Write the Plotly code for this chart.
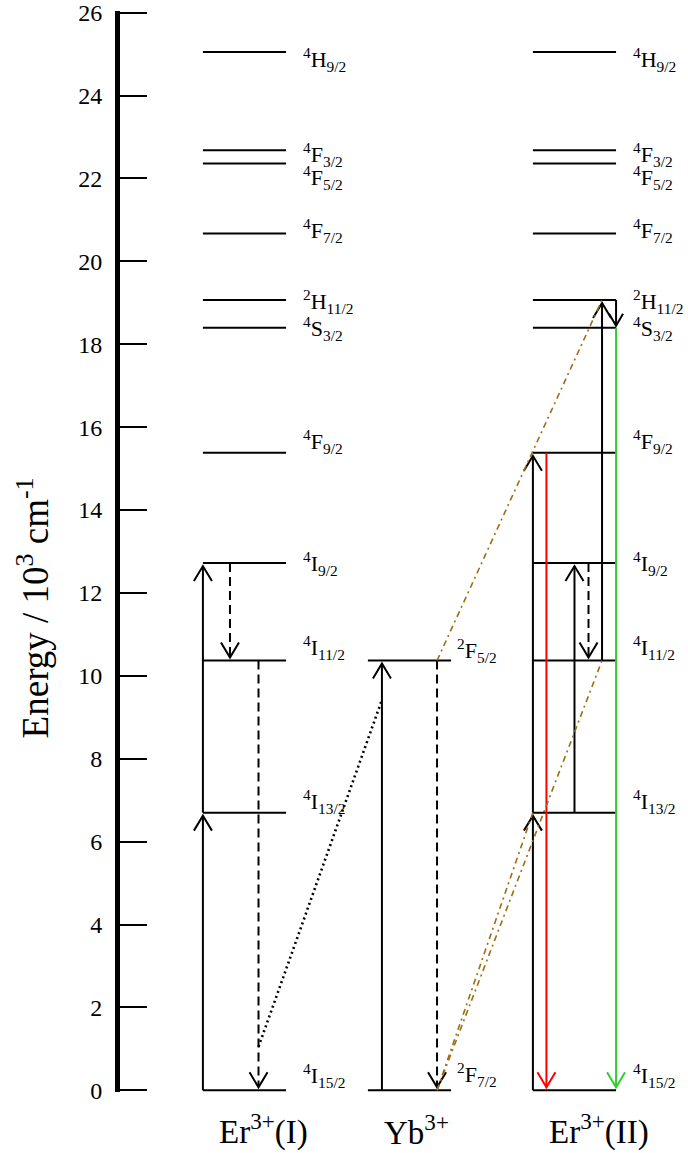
import plotly.graph_objects as go

# ---------------------------------------------------------------- data
# Er3+ multiplets (10^3 cm^-1), lowest first
er_terms = [
    "<sup>4</sup>I<sub>15/2</sub>", "<sup>4</sup>I<sub>13/2</sub>", "<sup>4</sup>I<sub>11/2</sub>",
    "<sup>4</sup>I<sub>9/2</sub>", "<sup>4</sup>F<sub>9/2</sub>", "<sup>4</sup>S<sub>3/2</sub>",
    "<sup>2</sup>H<sub>11/2</sub>", "<sup>4</sup>F<sub>7/2</sub>", "<sup>4</sup>F<sub>5/2</sub>",
    "<sup>4</sup>F<sub>3/2</sub>", "<sup>4</sup>H<sub>9/2</sub>",
]
er_energy = [0.0, 6.70, 10.37, 12.72, 15.38, 18.40, 19.07, 20.67, 22.36, 22.68, 25.05]

# Yb3+ multiplets
yb_terms = ["<sup>2</sup>F<sub>7/2</sub>", "<sup>2</sup>F<sub>5/2</sub>"]
yb_energy = [0.0, 10.37]

ion_labels = ["Er<sup>3+</sup>(I)", "Yb<sup>3+</sup>", "Er<sup>3+</sup>(II)"]
energy_ticks = [0, 2, 4, 6, 8, 10, 12, 14, 16, 18, 20, 22, 24, 26]

# transitions: (column, lane, start level index, end level index, kind)
transitions = [
    (0, "edge_l", 0, 1, "abs"), (0, "edge_l", 1, 3, "abs"),
    (0, "l1", 3, 2, "relax"), (0, "r1", 2, 0, "relax"),
    (1, "yb_l", 0, 1, "abs"), (1, "yb_r", 1, 0, "relax"),
    (2, "edge_l", 0, 1, "abs"), (2, "edge_l", 1, 4, "abs"),
    (2, "red", 4, 0, "red"),
    (2, "mid", 1, 3, "abs"), (2, "r1", 3, 2, "relax"),
    (2, "yb_r", 2, 6, "abs"), (2, "edge_r", 6, 5, "abs_down"),
    (2, "edge_r", 5, 0, "green"),
]

# energy-transfer paths: ((column, lane, energy), (column, lane, energy))
transfer_paths = [
    ((1, "yb_r", yb_energy[1]), (2, "yb_r", er_energy[6])),
    ((1, "yb_r", yb_energy[0]), (2, "yb_r", er_energy[2])),
    ((1, "yb_r", yb_energy[0]), (2, "edge_l", er_energy[1])),
]
# back-transfer path Er(I) -> Yb (energies at its two ends)
back_transfer_energy = [1.05, 9.42]

# ---------------------------------------------------------------- layout
FIG_W, FIG_H = 688, 1153
M_L, M_R, M_T, M_B = 120, 0, 11, 61
X_RANGE = [-0.7545, 2.688]
Y_RANGE = [-0.04, 26.04]
HALF_W = 0.252
LANES = {"edge_l": -0.252, "edge_r": 0.252, "l1": -0.088, "r1": 0.085,
         "yb_l": -0.167, "yb_r": 0.167, "red": -0.170, "mid": 0.0}
SERIF = "Liberation Serif"
BROWN = "#9E6B12"

px_x = (FIG_W - M_L - M_R) / (X_RANGE[1] - X_RANGE[0])
px_y = (FIG_H - M_T - M_B) / (Y_RANGE[1] - Y_RANGE[0])

STYLES = {
    "abs": dict(color="black", dash="solid"),
    "abs_down": dict(color="black", dash="solid"),
    "relax": dict(color="black", dash="9px,5px"),
    "red": dict(color="#FF0000", dash="solid"),
    "green": dict(color="#33CC33", dash="solid"),
}

fig = go.Figure()


def add_line(xs, ys, color="black", width=2, dash="solid"):
    fig.add_trace(go.Scatter(x=xs, y=ys, mode="lines", hoverinfo="skip",
                             line=dict(color=color, width=width, dash=dash)))


# level lines
for col, energies in ((0, er_energy), (1, yb_energy), (2, er_energy)):
    xs, ys = [], []
    for e in energies:
        xs += [col - HALF_W, col + HALF_W, None]
        ys += [e, e, None]
    add_line(xs, ys, width=2)

# arrows with open chevron heads
GAP = 3 / px_y
HEAD_H = 15 / px_y
HEAD_W = 9 / px_x
for col, lane, i0, i1, kind in transitions:
    levels = yb_energy if col == 1 else er_energy
    e0, e1 = levels[i0], levels[i1]
    x = col + LANES[lane]
    d = 1 if e1 > e0 else -1
    tip = e1 - d * GAP
    st = STYLES[kind]
    hh, hw = HEAD_H, HEAD_W
    if kind == "abs_down":
        hh, hw = 12 / px_y, 7 / px_x
        tip = e1 + 2 / px_y
    add_line([x, x], [e0, tip], color=st["color"], dash=st["dash"])
    add_line([x - hw, x, x + hw], [tip - d * hh, tip, tip - d * hh], color=st["color"])

# energy transfer Yb -> Er(II)
for (c0, l0, e0), (c1, l1, e1) in transfer_paths:
    add_line([c0 + LANES[l0], c1 + LANES[l1]], [e0, e1], color=BROWN, width=1.6,
             dash="6px,4px,2px,4px")

# back transfer Er(I) -> Yb
add_line([0 + LANES["r1"], 1 + LANES["yb_l"]], back_transfer_energy, color="black",
         width=2.6, dash="2px,3.2px")

annotations = []
# term labels
ER_SHIFT = [17, 13, 15, 2, 13, 1, 0, 5, -12, -2, -5]
YB_SHIFT = [18, 12]
for col, terms, energies, shifts, dx in ((0, er_terms, er_energy, ER_SHIFT, 15),
                                        (1, yb_terms, yb_energy, YB_SHIFT, 4),
                                        (2, er_terms, er_energy, ER_SHIFT, 15)):
    for t, e, s in zip(terms, energies, shifts):
        annotations.append(dict(x=col + HALF_W, y=e, xref="x", yref="y", text=t,
                                showarrow=False, xanchor="left", yanchor="middle",
                                xshift=dx, yshift=s - 2,
                                font=dict(family=SERIF, size=22, color="black")))

# ion labels under each column
for col, lab in enumerate(ion_labels):
    annotations.append(dict(x=col - HALF_W, y=-0.035, xref="x", yref="paper", text=lab,
                            showarrow=False, xanchor="left", yanchor="middle", xshift=14,
                            font=dict(family=SERIF, size=33, color="black")))

# energy axis title
annotations.append(dict(x=-0.152, y=0.448, xref="paper", yref="paper",
                        text="Energy / 10<sup>3</sup> cm<sup>-1</sup>", textangle=-90,
                        showarrow=False, xanchor="center", yanchor="middle",
                        font=dict(family=SERIF, size=37, color="black")))

fig.update_layout(
    width=FIG_W, height=FIG_H,
    margin=dict(l=M_L, r=M_R, t=M_T, b=M_B),
    paper_bgcolor="white", plot_bgcolor="white",
    showlegend=False,
    annotations=annotations,
    xaxis=dict(range=X_RANGE, visible=False, fixedrange=True),
    yaxis=dict(range=Y_RANGE, tickvals=energy_ticks, ticks="inside", ticklen=27,
               tickwidth=2, tickcolor="black", showline=True, linewidth=5,
               linecolor="black", showgrid=False, zeroline=False, ticklabelstandoff=8,
               tickfont=dict(family=SERIF, size=24, color="black"), fixedrange=True),
)

fig.write_html("out.html")
